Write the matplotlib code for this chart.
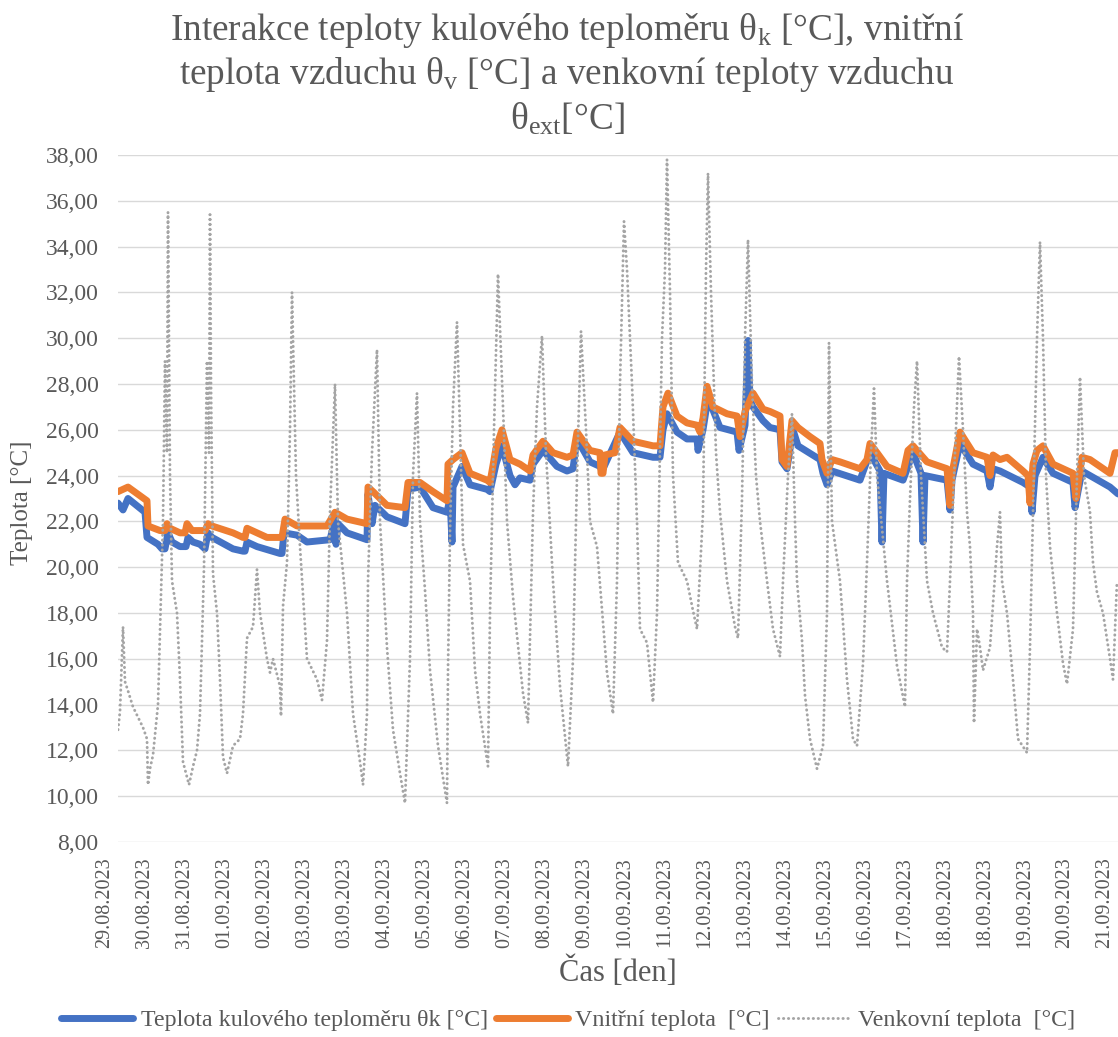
import numpy as np
import matplotlib
matplotlib.use("Agg")
import matplotlib.pyplot as plt
from matplotlib.transforms import ScaledTranslation

plt.rcParams['font.family'] = ['Liberation Serif', 'DejaVu Serif']
plt.rcParams['mathtext.fontset'] = 'custom'
plt.rcParams['mathtext.rm'] = 'Liberation Serif'
plt.rcParams['mathtext.it'] = 'Liberation Serif:italic'

# Category labels (Excel shows every 80th sample)
day_labels = ["29.08.2023", "30.08.2023", "31.08.2023", "01.09.2023", "02.09.2023",
              "03.09.2023", "03.09.2023", "04.09.2023", "05.09.2023", "06.09.2023",
              "07.09.2023", "08.09.2023", "09.09.2023", "10.09.2023", "11.09.2023",
              "12.09.2023", "13.09.2023", "14.09.2023", "15.09.2023", "16.09.2023",
              "17.09.2023", "18.09.2023", "18.09.2023", "19.09.2023", "20.09.2023",
              "21.09.2023"]
label_step = 80
n_samples = 2000

# Globe thermometer temperature (sample index, value)
kul_x = [0, 10, 20, 54, 58, 80, 88, 94, 100, 108, 124, 136, 140, 150, 164, 174, 180, 188,
         230, 250, 254, 258, 278, 324, 328, 332, 358, 378, 424, 434, 436, 440, 458, 498,
         500, 508, 514, 524, 538, 574, 580, 604, 630, 658, 664, 668, 670, 688, 704, 738,
         744, 756, 768, 784, 794, 804, 824, 830, 850, 878, 898, 910, 918, 944, 964, 968,
         1004, 1030, 1070, 1084, 1090, 1098, 1118, 1138, 1158, 1160, 1170, 1180, 1204,
         1238, 1242, 1254, 1260, 1264, 1270, 1290, 1304, 1324, 1328, 1338, 1350, 1360,
         1404, 1410, 1418, 1428, 1484, 1504, 1524, 1528, 1532, 1570, 1590, 1606, 1610,
         1614, 1658, 1664, 1668, 1684, 1710, 1738, 1744, 1750, 1764, 1810, 1824, 1828,
         1834, 1850, 1870, 1910, 1914, 1920, 1928, 1984, 2000]
kul_t = [22.8, 22.5, 23.0, 22.4, 21.3, 21.0, 20.8, 20.8, 21.5, 21.1, 20.9, 20.9, 21.3, 21.1,
         21.0, 20.8, 21.5, 21.3, 20.8, 20.7, 20.7, 21.1, 20.9, 20.6, 20.6, 21.5, 21.4, 21.1,
         21.2, 22.1, 21.0, 21.9, 21.5, 21.2, 23.2, 21.9, 22.7, 22.5, 22.2, 21.9, 23.4, 23.5,
         22.6, 22.4, 23.0, 21.1, 23.5, 24.4, 23.6, 23.4, 23.3, 24.5, 25.3, 24.0, 23.6, 23.9,
         23.8, 24.5, 25.1, 24.4, 24.2, 24.3, 25.6, 24.6, 24.4, 24.2, 25.9, 25.0, 24.8, 24.8,
         26.0, 26.7, 25.9, 25.6, 25.6, 25.1, 26.0, 27.4, 26.1, 25.9, 25.1, 26.2, 29.9, 27.3,
         27.0, 26.4, 26.1, 26.0, 24.6, 24.3, 26.0, 25.3, 24.7, 24.1, 23.6, 24.2, 23.8, 25.0,
         24.2, 21.1, 24.1, 23.8, 25.0, 24.1, 21.1, 24.0, 23.8, 22.5, 23.8, 25.4, 24.5, 24.2,
         23.5, 24.3, 24.2, 23.7, 23.5, 22.4, 24.0, 24.8, 24.1, 23.7, 22.6, 23.3, 24.2, 23.5,
         23.2]

# Indoor air temperature
vni_x = [0, 20, 58, 60, 84, 94, 98, 104, 124, 134, 138, 148, 174, 180, 188, 230, 250, 254,
         258, 278, 298, 328, 334, 358, 418, 434, 458, 498, 500, 510, 524, 538, 574, 580,
         604, 630, 658, 660, 670, 688, 704, 738, 744, 756, 768, 784, 804, 824, 830, 850,
         870, 898, 910, 918, 944, 964, 966, 970, 974, 994, 1004, 1030, 1070, 1084, 1090,
         1100, 1118, 1138, 1158, 1164, 1170, 1178, 1190, 1218, 1238, 1244, 1254, 1270,
         1290, 1304, 1324, 1328, 1338, 1348, 1360, 1384, 1404, 1408, 1418, 1428, 1444,
         1484, 1498, 1504, 1518, 1538, 1570, 1580, 1590, 1618, 1658, 1664, 1668, 1684,
         1710, 1738, 1744, 1750, 1764, 1778, 1810, 1820, 1824, 1830, 1838, 1850, 1870,
         1910, 1916, 1928, 1944, 1984, 1994, 2000]
vni_t = [23.3, 23.5, 22.9, 21.8, 21.6, 21.6, 21.9, 21.7, 21.5, 21.5, 21.9, 21.6, 21.6, 21.9,
         21.8, 21.5, 21.3, 21.3, 21.7, 21.5, 21.3, 21.3, 22.1, 21.8, 21.8, 22.4, 22.1, 21.9,
         23.5, 23.3, 23.0, 22.7, 22.6, 23.7, 23.7, 23.3, 22.9, 24.5, 24.7, 25.0, 24.1, 23.8,
         23.7, 25.2, 26.0, 24.7, 24.5, 24.2, 24.9, 25.5, 25.0, 24.8, 24.9, 25.9, 25.1, 25.0,
         24.1, 24.1, 24.9, 25.0, 26.1, 25.5, 25.3, 25.3, 27.0, 27.6, 26.6, 26.3, 26.2, 25.9,
         26.5, 27.9, 27.0, 26.7, 26.6, 25.7, 26.8, 27.6, 26.9, 26.8, 26.6, 24.7, 24.4, 26.4,
         26.1, 25.7, 25.4, 24.7, 24.1, 24.7, 24.6, 24.3, 24.7, 25.4, 25.0, 24.4, 24.1, 25.1,
         25.3, 24.6, 24.3, 22.7, 24.1, 25.9, 25.0, 24.8, 24.0, 24.9, 24.7, 24.8, 24.2, 24.0,
         22.8, 24.5, 25.1, 25.3, 24.5, 24.1, 23.0, 24.8, 24.7, 24.1, 25.0, 25.0]

# Outdoor air temperature
ven_x = [0, 4, 10, 14, 20, 30, 50, 58, 60, 64, 70, 80, 90, 94, 98, 100, 102, 104, 108, 118,
         124, 130, 142, 150, 158, 164, 172, 178, 182, 184, 186, 190, 198, 204, 210, 218,
         230, 244, 250, 258, 270, 278, 284, 298, 304, 310, 324, 326, 330, 338, 344, 348,
         356, 364, 378, 398, 408, 418, 424, 434, 440, 458, 470, 484, 490, 498, 500, 508,
         518, 524, 538, 550, 564, 574, 584, 590, 598, 604, 614, 624, 640, 658, 660, 664,
         670, 678, 684, 690, 704, 714, 724, 740, 744, 752, 760, 770, 778, 790, 810, 820,
         830, 838, 848, 856, 870, 884, 900, 910, 918, 926, 936, 944, 958, 978, 990, 998,
         1004, 1012, 1018, 1028, 1038, 1044, 1058, 1070, 1078, 1088, 1094, 1098, 1104,
         1110, 1120, 1138, 1150, 1158, 1170, 1176, 1180, 1186, 1196, 1204, 1218, 1234,
         1240, 1248, 1254, 1260, 1268, 1276, 1284, 1298, 1310, 1324, 1330, 1340, 1348,
         1354, 1358, 1368, 1374, 1384, 1398, 1410, 1418, 1422, 1428, 1444, 1458, 1470,
         1478, 1490, 1498, 1506, 1512, 1518, 1538, 1558, 1574, 1578, 1584, 1592, 1598,
         1606, 1618, 1630, 1648, 1658, 1664, 1674, 1682, 1690, 1698, 1704, 1710, 1712,
         1718, 1724, 1730, 1744, 1758, 1764, 1768, 1778, 1790, 1800, 1818, 1824, 1830,
         1838, 1844, 1850, 1856, 1864, 1878, 1890, 1898, 1910, 1918, 1924, 1932, 1944,
         1950, 1958, 1970, 1984, 1990, 1998]
ven_t = [12.9, 13.7, 17.4, 15.0, 14.6, 13.9, 13.0, 12.5, 10.5, 11.2, 11.8, 14.0, 22.0, 29.0,
         25.0, 35.5, 30.0, 24.0, 19.4, 18.0, 15.1, 11.5, 10.5, 11.3, 12.0, 13.6, 20.0, 29.0,
         25.0, 35.4, 28.0, 19.7, 18.0, 15.1, 11.7, 11.0, 12.2, 12.5, 13.6, 16.9, 17.4, 19.9,
         18.0, 16.0, 15.4, 16.0, 14.8, 13.5, 18.3, 20.2, 26.0, 32.0, 24.0, 20.9, 16.0, 15.1,
         14.2, 16.8, 22.4, 28.0, 22.0, 18.0, 13.6, 11.5, 10.5, 13.6, 19.4, 25.0, 29.5, 22.0,
         16.5, 12.9, 11.0, 9.7, 16.0, 24.0, 27.6, 22.0, 19.0, 15.5, 12.2, 9.7, 15.5, 21.5,
         27.0, 30.7, 26.0, 21.0, 19.4, 15.5, 13.6, 11.3, 18.0, 26.0, 32.8, 27.0, 22.0, 18.7,
         14.5, 13.2, 22.4, 27.0, 30.1, 25.0, 19.4, 14.8, 11.3, 16.0, 24.0, 30.3, 26.0, 22.0,
         20.9, 15.4, 13.6, 19.4, 28.0, 35.1, 33.0, 28.0, 22.0, 17.3, 16.7, 14.1, 18.0, 30.0,
         33.0, 37.8, 32.0, 24.0, 20.2, 19.4, 18.1, 17.3, 22.4, 33.0, 37.2, 32.0, 25.0, 22.4,
         19.4, 17.4, 16.9, 23.0, 30.0, 34.3, 28.0, 24.0, 22.0, 19.4, 17.3, 16.1, 19.4, 24.0,
         26.7, 22.0, 19.4, 16.8, 14.4, 12.5, 11.2, 12.2, 18.0, 29.8, 22.0, 19.4, 15.1, 12.5,
         12.2, 15.8, 20.2, 25.0, 27.8, 24.0, 19.4, 15.7, 13.9, 19.4, 23.0, 27.0, 29.0, 24.0,
         19.4, 18.0, 16.5, 16.3, 19.4, 25.0, 29.2, 26.0, 22.4, 20.9, 18.0, 13.2, 17.3, 16.5,
         15.5, 16.5, 20.9, 22.4, 19.4, 18.0, 15.1, 12.5, 11.9, 16.5, 22.4, 30.0, 34.2, 30.0,
         24.0, 20.9, 18.0, 15.8, 14.9, 17.3, 24.0, 28.3, 24.0, 22.4, 20.2, 18.9, 18.0, 16.0,
         15.1, 19.4]

blue = "#4472C4"
orange = "#ED7D31"
grey = "#A5A5A5"
text_col = "#595959"

fig = plt.figure(figsize=(11.18, 10.37), dpi=100)
ax = fig.add_axes([118 / 1118, 1 - 842 / 1037, 1000 / 1118, 687 / 1037])

ax.plot(kul_x, kul_t, color=blue, lw=5, solid_joinstyle="round", solid_capstyle="round",
        label="Teplota kulového teploměru θk [°C]")
ax.plot(vni_x, vni_t, color=orange, lw=5, solid_joinstyle="round", solid_capstyle="round",
        label="Vnitřní teplota  [°C]")
ax.plot(ven_x, ven_t, color=grey, lw=2.1, linestyle=(0, (0.1, 1.6)), dash_capstyle="round",
        label="Venkovní teplota  [°C]")

ax.set_xlim(0, n_samples)
ax.set_ylim(8, 38)
ax.set_yticks(np.arange(8, 39, 2))
ax.set_yticklabels([f"{v:.2f}".replace(".", ",") for v in np.arange(8, 39, 2)])
ax.set_xticks(np.arange(len(day_labels)) * label_step)
ax.set_xticklabels(day_labels, rotation=90)

ax.grid(axis="y", color="#D9D9D9", lw=1.0)
ax.set_axisbelow(True)
for s in ax.spines.values():
    s.set_visible(False)
ax.tick_params(axis="both", length=0, colors=text_col)
ax.tick_params(axis="y", labelsize=17, pad=14)
ax.tick_params(axis="x", labelsize=14.5, pad=11)
shift = ScaledTranslation(-13 / 100, 0, fig.dpi_scale_trans)
for lab in ax.get_xticklabels():
    lab.set_transform(lab.get_transform() + shift)

ax.set_xlabel("Čas [den]", fontsize=22, color=text_col, labelpad=6)
ax.set_ylabel("Teplota [°C]", fontsize=18, color=text_col, va="center")
ax.yaxis.set_label_coords((22 - 118) / 1000, (842 - 503) / 687)

# title in three lines
title_lines = ["Interakce teploty kulového teploměru θ$_{\\mathrm{k}}$ [°C], vnitřní",
               "teplota vzduchu θ$_{\\mathrm{v}}$ [°C] a venkovní teploty vzduchu",
               "θ$_{\\mathrm{ext}}$[°C]"]
for i, line in enumerate(title_lines):
    fig.text(567 / 1118, 1 - (31 + 44 * i) / 1037, line, ha="center", va="center",
             fontsize=26.8, color=text_col)

fig.legend(loc="center", bbox_to_anchor=(568 / 1118, 1 - 1020 / 1037), ncol=3,
           frameon=False, fontsize=17.3, handlelength=3.0, handletextpad=0.3,
           columnspacing=0.35, labelcolor=text_col)

fig.savefig("out.png", dpi=100)
